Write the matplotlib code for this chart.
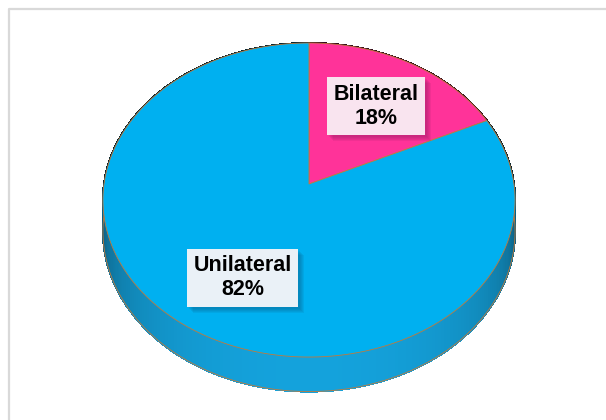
import numpy as np
import matplotlib.pyplot as plt
from matplotlib.patches import Polygon, Rectangle
from matplotlib.collections import PolyCollection
from matplotlib.colors import to_rgb

# Laterality split
labels = ["Bilateral", "Unilateral"]
percents = [18, 82]
slice_colors = ["#FF3399", "#00B0F0"]
side_colors = ["#E0287F", "#14A2DC"]
label_fills = ["#F9E4EF", "#EAF1F7"]
shadow_colors = ["#9A1F66", "#0A6690"]
label_nudge = [(0, 2), (8, 5)]

# 3D pie geometry in pixel space (y grows downwards)
CX, CY = 309, 184
RX, RY = 205, 155.4
PERSP = 0.102
DEPTH = 31
EDGE = "#C07A3C"
FONT = ["Liberation Sans", "DejaVu Sans"]


def project(theta, r=1.0, drop=0.0):
    u = r * np.sin(theta)
    v = r * np.cos(theta)
    w = 1 + PERSP * v
    return CX + RX * u / w, CY - RY * v / w + drop / w


fig = plt.figure(figsize=(6.06, 4.2), dpi=100)
ax = fig.add_axes([0, 0, 1, 1])
ax.set_xlim(0, 606)
ax.set_ylim(420, 0)
ax.axis("off")

# chart area border
ax.plot([9, 9, 606], [420, 9, 9], color="#D9D9D9", lw=1.6, zorder=0)

fracs = np.array(percents, dtype=float) / sum(percents)
bounds = np.concatenate([[0], np.cumsum(fracs)]) * 2 * np.pi

# side wall, drawn back to front with simple shading
n = 360
ts = np.linspace(0, 2 * np.pi, n + 1)
segs = []
for a, b in zip(ts[:-1], ts[1:]):
    mid = 0.5 * (a + b)
    idx = min(np.searchsorted(bounds, mid) - 1, len(percents) - 1)
    segs.append((np.cos(mid), a, b, idx))
segs.sort(key=lambda s: -s[0])
quads, cols = [], []
for v, a, b, idx in segs:
    shade = 0.22 + 0.78 * max(0.0, -v) ** 0.45
    cols.append(np.array(to_rgb(side_colors[idx])) * shade)
    x1, y1 = project(a)
    x2, y2 = project(b)
    x3, y3 = project(b, drop=DEPTH)
    x4, y4 = project(a, drop=DEPTH)
    quads.append([(x1, y1), (x2, y2), (x3, y3), (x4, y4)])
ax.add_collection(PolyCollection(quads, facecolors=cols, edgecolors=cols,
                                 linewidths=0.8, antialiased=False,
                                 zorder=1))

# bottom rim outline on the visible front
front = np.linspace(np.pi / 2 - 0.1, 3 * np.pi / 2 + 0.1, 200)
bx, by = project(front, drop=DEPTH)
ax.plot(bx, by, color=EDGE, lw=0.6, zorder=2)

# top faces
for i in range(len(percents)):
    arc = np.linspace(bounds[i], bounds[i + 1], 200)
    ax_, ay_ = project(arc)
    pts = [(CX, CY)] + list(zip(ax_, ay_))
    ax.add_patch(Polygon(pts, closed=True, fc=slice_colors[i], ec=EDGE,
                         lw=0.6, zorder=3))

# data labels with drop shadows
texts = []
for i, (lab, pct) in enumerate(zip(labels, percents)):
    mid = 0.5 * (bounds[i] + bounds[i + 1])
    lx, ly = project(mid, r=0.64)
    lx += label_nudge[i][0]
    ly += label_nudge[i][1]
    t = ax.text(lx, ly, f"{lab}\n{pct}%", ha="center", va="center",
                fontsize=15.5, fontweight="bold", family=FONT,
                linespacing=1.2, color="black", zorder=6,
                bbox=dict(boxstyle="square,pad=0.3", fc=label_fills[i],
                          ec="none"))
    texts.append(t)

fig.canvas.draw()
inv = ax.transData.inverted()
for i, t in enumerate(texts):
    ext = t.get_bbox_patch().get_window_extent()
    (x0, y0), (x1, y1) = inv.transform([[ext.x0, ext.y0], [ext.x1, ext.y1]])
    xmin, ymin = min(x0, x1), min(y0, y1)
    w, h = abs(x1 - x0), abs(y1 - y0)
    for off in [6, 5, 4, 3, 2]:
        ax.add_patch(Rectangle((xmin + off, ymin + off), w, h,
                               fc=shadow_colors[i], ec="none", alpha=0.13,
                               zorder=5))

fig.savefig("out.png", dpi=100)
